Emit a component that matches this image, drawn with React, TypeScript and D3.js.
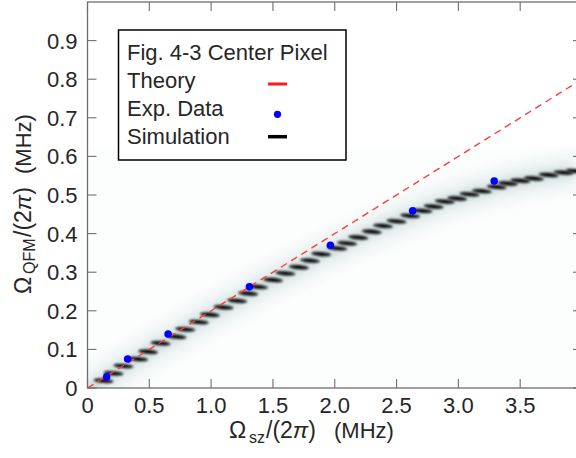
import React from "react";
import * as d3 from "d3";

// ---- data ----
const xTicks = [0, 0.5, 1.0, 1.5, 2.0, 2.5, 3.0, 3.5];
const xTickLabels = ["0", "0.5", "1.0", "1.5", "2.0", "2.5", "3.0", "3.5"];
const yTicks = [0, 0.1, 0.2, 0.3, 0.4, 0.5, 0.6, 0.7, 0.8, 0.9];
const yTickLabels = ["0", "0.1", "0.2", "0.3", "0.4", "0.5", "0.6", "0.7", "0.8", "0.9"];

// Simulation (dark streak centres)
const simX = [0.13, 0.21, 0.29, 0.41, 0.49, 0.59, 0.72, 0.79, 0.9, 0.99, 1.1, 1.21, 1.3, 1.38, 1.5, 1.6, 1.71, 1.8, 1.89, 2.02, 2.1, 2.19, 2.3, 2.39, 2.5, 2.61, 2.71, 2.8, 2.89, 2.99, 3.09, 3.19, 3.31, 3.4, 3.5, 3.61, 3.73, 3.85, 3.95];
const simY = [0.019, 0.038, 0.057, 0.075, 0.094, 0.116, 0.133, 0.152, 0.171, 0.19, 0.209, 0.226, 0.245, 0.262, 0.28, 0.297, 0.313, 0.33, 0.347, 0.362, 0.375, 0.39, 0.405, 0.42, 0.432, 0.446, 0.459, 0.47, 0.483, 0.491, 0.502, 0.51, 0.521, 0.53, 0.537, 0.543, 0.552, 0.558, 0.562];

// Experimental data
const expX = [0.155, 0.325, 0.652, 1.31, 1.965, 2.63, 3.29];
const expY = [0.029, 0.075, 0.14, 0.262, 0.37, 0.459, 0.536];

// Theory line
const theoryX = [0, 4.0];
const theoryY = [0, 0.8];

const simImageTop = 0.625;

const legendLabels = ["Fig. 4-3 Center Pixel", "Theory", "Exp. Data", "Simulation"];

const W = 576;
const H = 458;
const left = 87.5;
const right = 582;
const top = 2;
const bottom = 388;

export default function App() {
  const x = d3.scaleLinear().domain([0, 4]).range([left, right]);
  const y = d3.scaleLinear().domain([0, 1]).range([bottom, top]);

  const simPts: [number, number][] = simX.map((v, i) => [v, simY[i]]);
  const haloLine = d3
    .line<[number, number]>()
    .x((d) => x(d[0]))
    .y((d) => y(d[1]))
    .curve(d3.curveBasis);
  const haloPath = haloLine([[0, 0], ...simPts]) || "";
  const theoryPath =
    d3
      .line<number>()
      .x((d) => x(d))
      .y((_, i) => y(theoryY[i]))(theoryX) || "";

  const font = "'Liberation Sans', Arial, sans-serif";
  const textColor = "#262626";
  const axisColor = "#6e6e6e";
  const fs = 22;

  return (
    <svg
      width={W}
      height={H}
      style={{ position: "absolute", left: 0, top: 0, background: "#fff" }}
      fontFamily={font}
    >
      <defs>
        <clipPath id="plotClip">
          <rect x={left} y={top} width={right - left} height={bottom - top} />
        </clipPath>
        <clipPath id="imgClip">
          <rect x={left} y={y(simImageTop)} width={right - left} height={bottom - y(simImageTop)} />
        </clipPath>
        <filter id="haloBlur" x="-50%" y="-50%" width="200%" height="200%">
          <feGaussianBlur stdDeviation="7" />
        </filter>
        <filter id="halo2" x="-50%" y="-50%" width="200%" height="200%">
          <feGaussianBlur stdDeviation="3" />
        </filter>
        <filter id="dashBlur" x="-50%" y="-100%" width="200%" height="300%">
          <feGaussianBlur stdDeviation="0.9" />
        </filter>
      </defs>

      <g clipPath="url(#plotClip)">
        {/* simulation image background */}
        <g clipPath="url(#imgClip)">
          <rect
            x={x(0)}
            y={y(simImageTop)}
            width={x(4) - x(0)}
            height={y(0) - y(simImageTop)}
            fill="#fcfdfd"
          />
          <path d={haloPath} fill="none" stroke="#e2ebeb" strokeWidth={30} filter="url(#haloBlur)" opacity={0.85} />
          <path d={haloPath} fill="none" stroke="#bfd1d1" strokeWidth={9} filter="url(#halo2)" opacity={0.7} />
        </g>
        {simPts.map((d, i) => (
          <ellipse
            key={i}
            cx={x(d[0])}
            cy={y(d[1])}
            rx={10}
            ry={2.1}
            fill="#0c0c0c"
            transform={`rotate(5 ${x(d[0])} ${y(d[1])})`}
            filter="url(#dashBlur)"
          />
        ))}
        <path d={theoryPath} fill="none" stroke="#ff3b3b" strokeWidth={1.4} strokeDasharray="7,5" />
        {expX.map((v, i) => (
          <circle key={i} cx={x(v)} cy={y(expY[i])} r={3.8} fill="#0000ff" />
        ))}
      </g>

      {/* axes box */}
      <rect x={left} y={top} width={right - left} height={bottom - top} fill="none" stroke={axisColor} strokeWidth={1.3} />
      {xTicks.map((t, i) => (
        <g key={"xt" + i}>
          <line x1={x(t)} x2={x(t)} y1={bottom} y2={bottom - 9} stroke={axisColor} strokeWidth={1.1} />
          <line x1={x(t)} x2={x(t)} y1={top} y2={top + 9} stroke={axisColor} strokeWidth={1.1} />
          <text x={x(t)} y={413} textAnchor="middle" fontSize={fs} fill={textColor}>
            {xTickLabels[i]}
          </text>
        </g>
      ))}
      {yTicks.map((t, i) => (
        <g key={"yt" + i}>
          <line x1={left} x2={left + 9} y1={y(t)} y2={y(t)} stroke={axisColor} strokeWidth={1.1} />
          <line x1={right} x2={right - 9} y1={y(t)} y2={y(t)} stroke={axisColor} strokeWidth={1.1} />
          <text x={77.5} y={y(t) + 8} textAnchor="end" fontSize={fs} fill={textColor}>
            {yTickLabels[i]}
          </text>
        </g>
      ))}

      {/* axis labels */}
      <text y={438} fontSize={fs} fill={textColor}>
        <tspan x={229} fontSize={23}>Ω</tspan>
        <tspan x={249} fontSize={16} dy={5}>sz</tspan>
        <tspan x={266} dy={-5} fontSize={23}>/(2</tspan>
        <tspan fontSize={23} fontStyle="italic">π</tspan>
        <tspan fontSize={23}>)</tspan>
        <tspan x={334}>(MHz)</tspan>
      </text>
      <text transform="translate(31,294) rotate(-90)" fontSize={fs} fill={textColor}>
        <tspan x={0} fontSize={23}>Ω</tspan>
        <tspan x={20} fontSize={16} dy={4}>QFM</tspan>
        <tspan x={57} dy={-4} fontSize={23}>/(2</tspan>
        <tspan fontSize={23} fontStyle="italic">π</tspan>
        <tspan fontSize={23}>)</tspan>
        <tspan x={120}>(MHz)</tspan>
      </text>

      {/* legend */}
      <rect x={118.5} y={30} width={227.5} height={130} fill="#fff" stroke="#000" strokeWidth={1.5} />
      {legendLabels.map((l, i) => (
        <text key={l} x={127} y={60 + i * 28} fontSize={fs} fill={textColor}>
          {l}
        </text>
      ))}
      <line x1={268} x2={287} y1={84} y2={84} stroke="#ff1a1a" strokeWidth={3} />
      <circle cx={277.5} cy={114.3} r={3.6} fill="#0000ff" />
      <line x1={268} x2={287} y1={136.7} y2={136.7} stroke="#000" strokeWidth={3.5} />
    </svg>
  );
}
